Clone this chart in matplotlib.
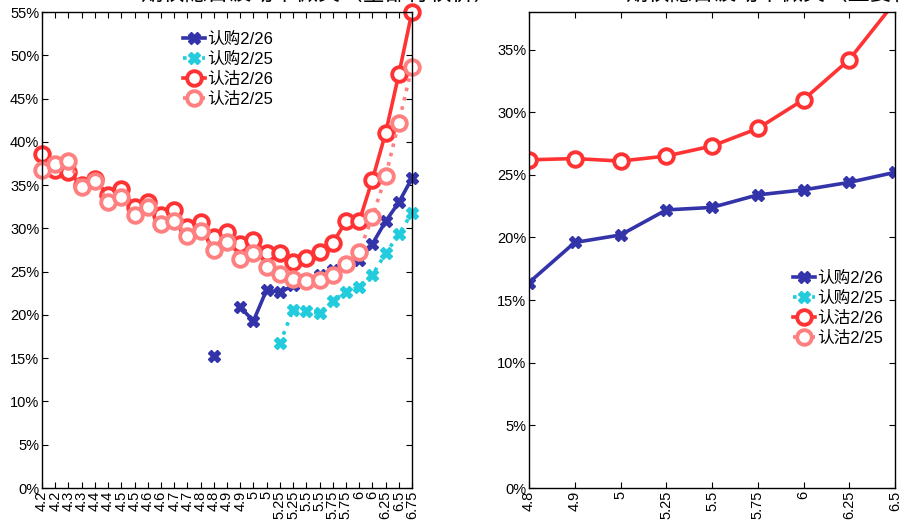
import numpy as np
import matplotlib
matplotlib.use("Agg")
import matplotlib.pyplot as plt
from matplotlib.ticker import FuncFormatter

plt.rcParams['font.family'] = ['Liberation Sans', 'Noto Sans CJK SC']

nan = np.nan

# 左图：全部行权价
strikes_all = ['4.2', '4.2', '4.3', '4.3', '4.4', '4.4', '4.5', '4.5', '4.6', '4.6',
               '4.7', '4.7', '4.8', '4.8', '4.9', '4.9', '5', '5', '5.25', '5.25',
               '5.5', '5.5', '5.75', '5.75', '6', '6', '6.25', '6.5', '6.75']
call_0226 = [nan, nan, nan, nan, nan, nan, nan, nan, nan, nan, nan, nan, nan, 15.2, nan,
             20.9, 19.3, 22.9, 22.6, 23.4, 24.0, 24.6, 25.2, 25.8, 26.3, 28.2, 30.8, 33.0, 35.8]
call_0225 = [nan] * 18 + [16.7, 20.6, 20.4, 20.2, 21.6, 22.7, 23.2, 24.6, 27.1, 29.3, 31.8]
put_0226 = [38.6, 36.8, 36.5, 35.0, 35.7, 33.8, 34.6, 32.5, 33.1, 31.5, 32.1, 30.2, 30.7, 29.0,
            29.6, 28.2, 28.6, 27.2, 27.1, 26.1, 26.6, 27.3, 28.3, 30.8, 30.8, 35.6, 41.0, 47.8, 55.0]
put_0225 = [36.8, 37.4, 37.8, 34.8, 35.5, 33.1, 33.6, 31.6, 32.5, 30.5, 30.9, 29.1, 29.7, 27.5,
            28.4, 26.5, 27.2, 25.5, 24.7, 24.2, 23.9, 24.0, 24.6, 25.9, 27.3, 31.3, 36.0, 42.2, 48.7]

# 右图：主要行权价
strikes_main = ['4.8', '4.9', '5', '5.25', '5.5', '5.75', '6', '6.25', '6.5']
call_0226_main = [16.4, 19.6, 20.2, 22.2, 22.4, 23.4, 23.8, 24.4, 25.2]
call_0225_main = [nan] * 9
put_0226_main = [26.2, 26.3, 26.1, 26.5, 27.3, 28.7, 31.0, 34.2, 38.8]
put_0225_main = [nan] * 9

labels = ['认购2/26', '认购2/25', '认沽2/26', '认沽2/25']
colors = ['#3333AA', '#22CCDD', '#FF3333', '#FF8080']


def draw(ax, cats, series, ylim, clip):
    x = np.arange(len(cats))
    for vals, lab, c in zip(series, labels, colors):
        v = np.array(vals) / 100
        if '认购' in lab:
            ax.plot(x, v, color=c, lw=2.6, ls='-' if '2/26' in lab else ':',
                    marker='X', ms=8, mec=c, mfc=c, label=lab, clip_on=clip)
        else:
            ax.plot(x, v, color=c, lw=2.6, ls='-' if '2/26' in lab else ':',
                    marker='o', ms=10.5, mew=2.8, mec=c, mfc='white', label=lab, clip_on=clip)
    ax.set_xlim(0, len(cats) - 1)
    ax.set_ylim(0, ylim)
    ax.set_xticks(x)
    ax.set_xticklabels(cats, rotation=90, fontsize=10.5)
    ax.yaxis.set_major_locator(plt.MultipleLocator(0.05))
    ax.yaxis.set_major_formatter(FuncFormatter(lambda v, p: '%d%%' % round(v * 100)))
    ax.tick_params(direction='in', top=True, right=True, length=4, labelsize=10.5, pad=2)
    for s in ax.spines.values():
        s.set_linewidth(1.0)


fig = plt.figure(figsize=(9.01, 5.25), dpi=100)
ax1 = fig.add_axes([42 / 901, 37 / 525, 370 / 901, 476 / 525])
ax2 = fig.add_axes([529 / 901, 37 / 525, 366 / 901, 476 / 525])

draw(ax1, strikes_all, [call_0226, call_0225, put_0226, put_0225], 0.55, False)
draw(ax2, strikes_main, [call_0226_main, call_0225_main, put_0226_main, put_0225_main], 0.38, True)

legend_kw = dict(loc='upper left', frameon=False, fontsize=12, handlelength=1.35,
                 handletextpad=0.1, labelspacing=0.3, borderpad=0, borderaxespad=0)
ax1.legend(bbox_to_anchor=(0.38, 0.958), **legend_kw)
ax2.legend(bbox_to_anchor=(0.72, 0.456), **legend_kw)

# 标题在原图中被裁掉，只露出底部
fig.text(140 / 901, 1 - 5 / 525, '期权隐含波动率微笑（全部行权价）', fontsize=16, va='bottom')
fig.text(625 / 901, 1 - 5 / 525, '期权隐含波动率微笑（主要行权价）', fontsize=16, va='bottom')

fig.savefig('out.png', dpi=100)
